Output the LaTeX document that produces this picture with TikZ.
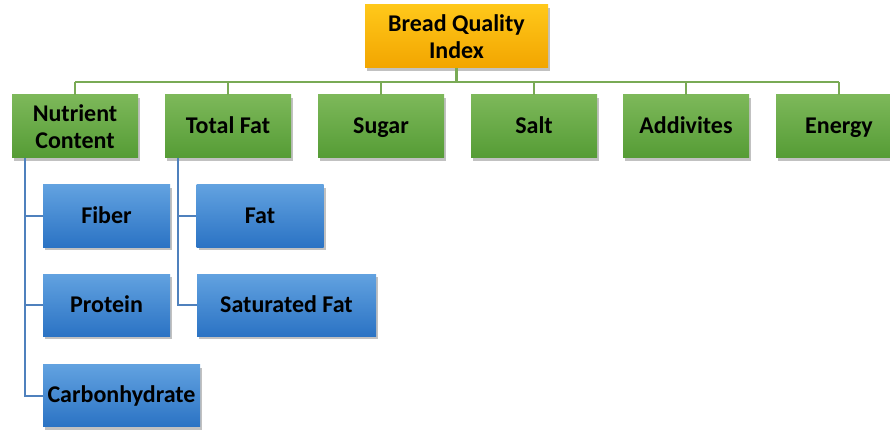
\documentclass[tikz,border=0pt]{standalone}
\usepackage{fontspec}
\setmainfont{Carlito}
\usetikzlibrary{shadows}
\definecolor{gtop}{HTML}{7DB85A}
\definecolor{gbot}{HTML}{559C35}
\definecolor{btop}{HTML}{62A2E0}
\definecolor{bbot}{HTML}{2B73C4}
\definecolor{otop}{HTML}{FFC81A}
\definecolor{obot}{HTML}{F2A500}
\definecolor{gline}{HTML}{79AA55}
\definecolor{bline}{HTML}{4F81BD}
\tikzset{
  box/.style={rectangle, align=center, font=\bfseries\fontsize{24}{27}\selectfont,
    text=black, inner sep=0pt,
    drop shadow={shadow xshift=2pt, shadow yshift=-3pt, opacity=0.35, fill=black!70}},
  one/.style={text height=16pt, text depth=2pt},
  gbox/.style={box, minimum width=126pt, minimum height=63pt, top color=gtop, bottom color=gbot},
  bbox/.style={box, one, minimum width=127pt, minimum height=62pt, top color=btop, bottom color=bbot},
  obox/.style={box, minimum width=183pt, minimum height=63pt, top color=otop, bottom color=obot},
  gconn/.style={draw=gline, line width=2.2pt},
  bconn/.style={draw=bline, line width=2pt},
}
\begin{document}
\begin{tikzpicture}[x=1pt,y=-1pt]
\useasboundingbox (0,0) rectangle (890,430);
\clip (0,0) rectangle (890,430);
\node[obox] (top) at (456.5,36.5) {Bread Quality\\Index};
\node[gbox] (nut) at (75,126.5) {Nutrient\\Content};
\node[gbox, one] (tf) at (228,126.5) {Total Fat};
\node[gbox, one] (sug) at (381,126.5) {Sugar};
\node[gbox, one] (salt) at (534,126.5) {Salt};
\node[gbox, one] (add) at (686,126.5) {Addivites};
\node[gbox, one] (en) at (839,126.5) {Energy};
\node[bbox] (fib) at (106.5,216) {Fiber};
\node[bbox] (pro) at (106.5,305) {Protein};
\node[bbox, minimum width=157pt] (carb) at (121.5,395.5) {Carbonhydrate};
\node[bbox] (fat) at (260,216) {Fat};
\node[bbox, minimum width=179pt] (sat) at (286.5,305) {Saturated Fat};
\coordinate (bus) at (0,82);
\draw[gconn] (top.south) -- (top.south |- bus);
\draw[gconn] (nut.north |- bus) -- (en.north |- bus);
\foreach \n in {nut,tf,sug,salt,add,en}{
  \draw[gconn] (\n.north) -- (\n.north |- bus);
}
\coordinate (nl) at ([xshift=-50pt]nut.south);
\coordinate (tl) at ([xshift=-50pt]tf.south);
\draw[bconn] (nl) |- (carb.west);
\draw[bconn] (nl |- fib.west) -- (fib.west);
\draw[bconn] (nl |- pro.west) -- (pro.west);
\draw[bconn] (tl) |- (sat.west);
\draw[bconn] (tl |- fat.west) -- (fat.west);
\end{tikzpicture}
\end{document}
